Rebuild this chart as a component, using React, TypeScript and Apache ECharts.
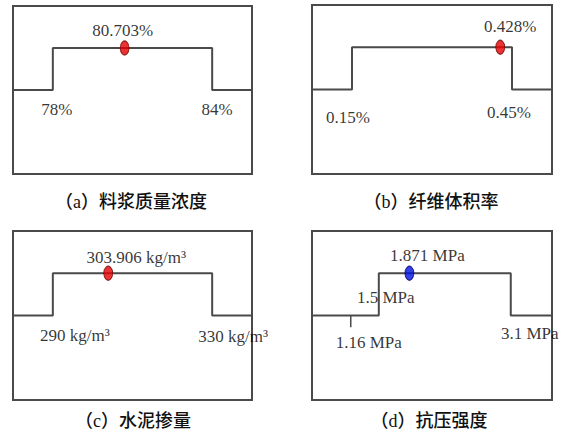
import React, { useEffect, useRef } from 'react';
import * as echarts from 'echarts';

// ---- data ----
const captions = ['（a）料浆质量浓度', '（b）纤维体积率', '（c）水泥掺量', '（d）抗压强度'];
const units = ['%', '%', ' kg/m³', ' MPa'];
const plateauStart = [78, 0.15, 290, 1.5];
const plateauEnd = [84, 0.45, 330, 3.1];
const optimum = [80.703, 0.428, 303.906, 1.871];
const extraBound: (number | null)[] = [null, null, null, 1.16];
const axisMin = [76.5, 0.075, 280, 0.69];
const axisMax = [85.5, 0.525, 340, 3.6];

// schematic levels of the step curve
const LOW = 0.5;
const HIGH = 0.75;
const TICK_DROP = 0.07;

// ---- layout / style ----
const boxes = [
  { left: 13, top: 6, width: 239, height: 168 },
  { left: 312, top: 5, width: 240, height: 169 },
  { left: 13, top: 231, width: 239, height: 169 },
  { left: 312, top: 231, width: 240, height: 169 },
];
const captionPos = [
  [131, 202],
  [431, 202],
  [133, 421],
  [429, 421],
];
const optOffset = [[-2, -18], [10, -21], [28, -16], [18, -18]];
const startOffset = [[4, 19], [-4, 28], [22, 20], [7, -18]];
const endOffset = [[5, 19], [-3, 23], [21, 21], [19, 18]];
const extraOffset = [[0, 0], [0, 0], [0, 0], [18, 27]];
const dotColor = ['#e60000', '#e60000', '#e60000', '#0010e0'];
const dotBorder = ['#700000', '#700000', '#700000', '#000070'];

const LINE = '#4a4a4a';
const SERIF = 'Liberation Serif, Times New Roman, serif';

export default function App() {
  const ref = useRef<HTMLDivElement>(null);
  useEffect(() => {
    document.body.style.margin = '0';
    const chart = echarts.init(ref.current!, null, { renderer: 'svg' });
    const grid: any[] = [];
    const xAxis: any[] = [];
    const yAxis: any[] = [];
    const series: any[] = [];
    const graphic: any[] = [];
    const fmt = (i: number, v: number) => `${v}${units[i]}`;
    const labelBase = {
      show: true,
      position: 'inside',
      align: 'center',
      verticalAlign: 'middle',
      fontFamily: SERIF,
      fontSize: 17,
      color: '#000',
    };
    for (let i = 0; i < 4; i++) {
      grid.push({ ...boxes[i], show: true, borderColor: LINE, borderWidth: 2, backgroundColor: '#fff' });
      xAxis.push({ gridIndex: i, type: 'value', min: axisMin[i], max: axisMax[i], show: false });
      yAxis.push({ gridIndex: i, type: 'value', min: 0, max: 1, show: false });
      series.push({
        type: 'line',
        xAxisIndex: i,
        yAxisIndex: i,
        symbol: 'none',
        silent: true,
        lineStyle: { color: LINE, width: 2 },
        data: [
          [axisMin[i], LOW],
          [plateauStart[i], LOW],
          [plateauStart[i], HIGH],
          [plateauEnd[i], HIGH],
          [plateauEnd[i], LOW],
          [axisMax[i], LOW],
        ],
      });
      const labelPts: any[] = [
        { value: [plateauStart[i], LOW], label: { ...labelBase, offset: startOffset[i], formatter: fmt(i, plateauStart[i]) } },
        { value: [plateauEnd[i], LOW], label: { ...labelBase, offset: endOffset[i], formatter: fmt(i, plateauEnd[i]) } },
      ];
      const eb = extraBound[i];
      if (eb !== null) {
        series.push({
          type: 'line',
          xAxisIndex: i,
          yAxisIndex: i,
          symbol: 'none',
          silent: true,
          lineStyle: { color: LINE, width: 1.5 },
          data: [
            [eb, LOW],
            [eb, LOW - TICK_DROP],
          ],
        });
        labelPts.push({ value: [eb, LOW], label: { ...labelBase, offset: extraOffset[i], formatter: fmt(i, eb) } });
      }
      series.push({
        type: 'scatter',
        xAxisIndex: i,
        yAxisIndex: i,
        symbolSize: 0,
        silent: true,
        z: 5,
        data: labelPts,
      });
      series.push({
        type: 'scatter',
        xAxisIndex: i,
        yAxisIndex: i,
        symbol: 'circle',
        symbolSize: [9, 14],
        silent: true,
        z: 6,
        itemStyle: { color: dotColor[i], borderColor: dotBorder[i], borderWidth: 1 },
        data: [
          { value: [optimum[i], HIGH], label: { ...labelBase, offset: optOffset[i], formatter: fmt(i, optimum[i]) } },
        ],
      });
      graphic.push({
        type: 'text',
        x: captionPos[i][0],
        y: captionPos[i][1],
        style: {
          text: captions[i],
          fontFamily: 'Liberation Serif, Noto Sans CJK SC, sans-serif',
          fontSize: 18,
          fontWeight: 500,
          fill: '#111',
          textAlign: 'center',
          textVerticalAlign: 'middle',
        },
      });
    }
    chart.setOption({
      animation: false,
      backgroundColor: '#fff',
      grid,
      xAxis,
      yAxis,
      series,
      graphic,
    });
    return () => chart.dispose();
  }, []);
  return <div ref={ref} style={{ width: 574, height: 436 }} />;
}
